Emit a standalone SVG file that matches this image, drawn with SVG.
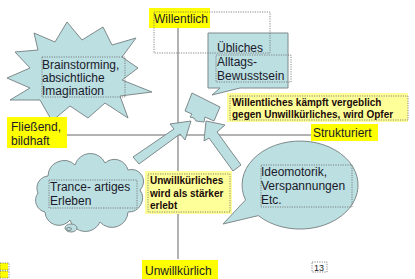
<svg xmlns="http://www.w3.org/2000/svg" width="415" height="279" viewBox="0 0 415 279">
<style>
.shape{fill:#bcdfe2;stroke:#7f8a8c;stroke-width:1}
.axis{stroke:#9a9a9a;stroke-width:1.5;fill:none}
.frame{fill:none;stroke:#6a6a6a;stroke-width:0.8;stroke-dasharray:1.2 1.2}
.hl{fill:#ffff00}
.pale{fill:#ffff99}
.t{font-family:"Liberation Sans",Arial,sans-serif;font-size:12px;fill:#1a1a2a}
.b{font-family:"Liberation Sans",Arial,sans-serif;font-size:10px;font-weight:bold;fill:#1a0a0a}
</style>
<rect width="415" height="279" fill="#ffffff"/>
<g id="connectors">
<line class="axis" x1="178" y1="28" x2="178" y2="259"/>
<line class="axis" x1="66" y1="135" x2="312" y2="135"/>
</g>
<g id="willentlich">
<rect class="hl" x="149" y="8" width="61" height="20"/>
<text class="t" x="154" y="23">Willentlich</text>
</g>
<g id="brainstorming">
<polygon class="shape" points="67,22 82,40 103,27 112,45 136,38 122,57 138,68 122,80 152,92 120,96 128,118 105,103 88,118 70,106 52,121 40,100 10,100 30,88 7,78 30,68 15,52 38,50 34,33 55,42"/>
<rect class="frame" x="42" y="57" width="83" height="40"/>
<text class="t" x="42" y="69">Brainstorming,</text>
<text class="t" x="42" y="82">absichtliche</text>
<text class="t" x="42" y="95">Imagination</text>
</g>
<g id="uebliches">
<path class="shape" d="M208,33 H288 V88 H240 L212,95 L220,88 H208 Z"/>
<rect class="frame" x="216" y="55" width="75" height="27"/>
<text class="t" x="217" y="52">Übliches</text>
<text class="t" x="217" y="66">Alltags-</text>
<text class="t" x="217" y="80">Bewusstsein</text>
</g>
<rect class="frame" x="154" y="12" width="116" height="41"/>
<g id="block">
<polygon class="shape" points="192,93 220,107 214,121 205,117 204,122 196,121 194,118 190,117 192,114 185,111"/>
</g>
<g id="arrow-left">
<polygon class="shape" points="133,157 174,129 170,124 191,121 185,140 180,134 139,164"/>
</g>
<g id="arrow-right">
<polygon class="shape" points="233,171 209,138 204,141 206,121 225,125 217,132 241,165"/>
</g>
<g id="willentliches-kaempft">
<rect class="pale" x="227" y="93" width="181" height="29"/>
<rect class="frame" x="230" y="96" width="178" height="24"/>
<text class="b" x="232" y="106">Willentliches  kämpft vergeblich</text>
<text class="b" x="232" y="118">gegen Unwillkürliches, wird Opfer</text>
</g>
<g id="strukturiert">
<rect class="hl" x="311" y="124" width="67" height="17"/>
<text class="t" x="313" y="137">Strukturiert</text>
</g>
<g id="fliessend">
<rect class="hl" x="7" y="117" width="60" height="31"/>
<text class="t" x="11" y="131">Fließend,</text>
<text class="t" x="11" y="145">bildhaft</text>
</g>
<g id="trance">
<path class="shape" d="M48,176 A16,16 0 0 1 75,165 A16,16 0 0 1 105,163 A14,14 0 0 1 128,170 A12,12 0 0 1 140,190 A14,14 0 0 1 128,212 A16,16 0 0 1 100,222 A16,16 0 0 1 70,220 A14,14 0 0 1 45,212 A12,12 0 0 1 38,193 A12,12 0 0 1 48,176 Z"/>
<ellipse class="shape" cx="71" cy="228" rx="6" ry="4"/>
<ellipse class="shape" cx="69" cy="229" rx="2.5" ry="1.5"/>
<rect class="frame" x="49" y="180" width="88" height="28"/>
<text class="t" x="50" y="191">Trance- artiges</text>
<text class="t" x="50" y="205">Erleben</text>
</g>
<g id="unwillkuerliches">
<rect class="pale" x="145" y="171" width="87" height="43"/>
<rect class="frame" x="148" y="174" width="82" height="38"/>
<text class="b" x="150" y="184">Unwillkürliches</text>
<text class="b" x="150" y="197">wird als stärker</text>
<text class="b" x="150" y="209">erlebt</text>
</g>
<g id="ideomotorik">
<path class="shape" d="M245.5,200 L223,224 L258.3,215.6 A58,44 0 1 0 245.5,200 Z"/>
<rect class="frame" x="261" y="165" width="91" height="42"/>
<text class="t" x="261" y="176">Ideomotorik,</text>
<text class="t" x="261" y="190">Verspannungen</text>
<text class="t" x="261" y="204">Etc.</text>
</g>
<g id="unwillkuerlich">
<rect class="hl" x="142" y="260" width="76" height="19"/>
<text class="t" x="145" y="275">Unwillkürlich</text>
</g>
<g id="page-number">
<rect class="frame" x="312" y="262" width="15" height="10"/>
<text class="t" x="314" y="271" style="font-size:9px">13</text>
</g>
<g id="corner">
<rect class="hl" x="0" y="263" width="8" height="7"/>
<rect class="frame" x="0" y="263" width="9" height="7"/>
<rect class="hl" x="0" y="271" width="8" height="7"/>
<rect class="frame" x="0" y="271" width="9" height="7"/>
</g>
</svg>
